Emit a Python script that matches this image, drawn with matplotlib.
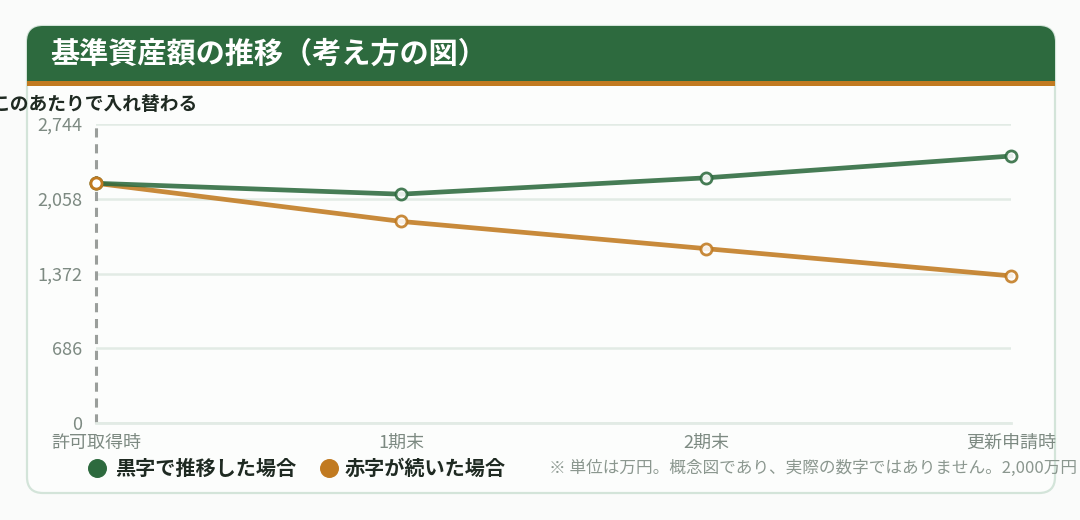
import matplotlib
matplotlib.use("Agg")
import matplotlib.pyplot as plt
from matplotlib.patches import FancyBboxPatch, Rectangle
from matplotlib.ticker import FuncFormatter

plt.rcParams['font.family'] = ['Noto Sans CJK JP', 'DejaVu Sans']

# ---- data ----
categories = ["許可取得時", "1期末", "2期末", "更新申請時"]
black_series = [2200, 2100, 2250, 2450]
red_series = [2200, 1850, 1600, 1350]
series_names = ["黒字で推移した場合", "赤字が続いた場合"]
y_ticks = [0, 686, 1372, 2058, 2744]
title = "基準資産額の推移（考え方の図）"
annotation = "このあたりで入れ替わる"
footnote = "※ 単位は万円。概念図であり、実際の数字ではありません。2,000万円"

GREEN = "#2d6a3e"
ORANGE = "#c17a20"
GRID = "#e2ebe5"
TICK = "#7d8a82"
DARK = "#1f2a22"

W, H = 1080, 520
fig = plt.figure(figsize=(W / 100, H / 100), dpi=100)
fig.patch.set_facecolor("#fafbfa")

# background / card axes in pixel coords
bg = fig.add_axes([0, 0, 1, 1])
bg.set_xlim(0, W)
bg.set_ylim(H, 0)
bg.axis("off")
bg.set_zorder(0)

cx0, cy0, cx1, cy1 = 27, 26, 1055, 493
card = FancyBboxPatch((cx0, cy0), cx1 - cx0, cy1 - cy0,
                      boxstyle="round,pad=0,rounding_size=16",
                      facecolor="#fcfdfc", edgecolor="#d3e4d9", linewidth=1.6)
bg.add_patch(card)
hdr = FancyBboxPatch((cx0, cy0), cx1 - cx0, 40,
                     boxstyle="round,pad=0,rounding_size=16",
                     facecolor=GREEN, edgecolor="none")
bg.add_patch(hdr)
bg.add_patch(Rectangle((cx0, 50), cx1 - cx0, 31, facecolor=GREEN, edgecolor="none"))
bg.add_patch(Rectangle((cx0, 81), cx1 - cx0, 4.5, facecolor=ORANGE, edgecolor="none"))
bg.text(50, 54, title, color="white", fontsize=21, fontweight="bold",
        va="center", ha="left")

# legend (manual)
bg.scatter([97], [468], s=160, color=GREEN, zorder=3)
bg.text(115, 468, series_names[0], color=DARK, fontsize=14.5, fontweight="bold",
        va="center", ha="left")
bg.scatter([329], [468], s=160, color=ORANGE, zorder=3)
bg.text(345, 468, series_names[1], color=DARK, fontsize=14.5, fontweight="bold",
        va="center", ha="left")
bg.text(549, 468, footnote, color="#8b978f", fontsize=12, va="center", ha="left")

# annotation text
bg.text(94, 105, annotation, color=DARK, fontsize=13.5, fontweight="bold",
        va="center", ha="center")

# ---- plot axes ----
px0, px1, py_top, py_bot = 96, 1011, 124, 423
ax = fig.add_axes([px0 / W, (H - py_bot) / H, (px1 - px0) / W, (py_bot - py_top) / H])
ax.set_zorder(1)
ax.patch.set_alpha(0)
x = list(range(len(categories)))
ax.set_xlim(0, len(categories) - 1)
ax.set_ylim(y_ticks[0], y_ticks[-1])
ax.set_yticks(y_ticks)
ax.yaxis.set_major_formatter(FuncFormatter(lambda v, p: f"{int(v):,}"))
ax.set_xticks(x)
ax.set_xticklabels(categories)
ax.tick_params(axis="both", length=0, colors=TICK, labelsize=13)
ax.tick_params(axis="y", pad=10)
ax.tick_params(axis="x", pad=8)
for s in ["top", "right", "left"]:
    ax.spines[s].set_visible(False)
ax.spines["bottom"].set_color(GRID)
ax.spines["bottom"].set_linewidth(2)
ax.grid(axis="y", color=GRID, linewidth=1.8)
ax.set_axisbelow(True)

# dashed marker line
ax.axvline(0, color="#9a9e9b", linestyle=(0, (3, 2.2)), linewidth=2.2, zorder=2, clip_on=False)

ax.plot(x, red_series, color=ORANGE, linewidth=3.4, alpha=0.88, zorder=3,
        marker="o", markersize=8, markerfacecolor="white", markeredgecolor=ORANGE,
        markeredgewidth=2, clip_on=False)
ax.plot(x, black_series, color=GREEN, linewidth=3.4, alpha=0.88, zorder=4,
        marker="o", markersize=8, markerfacecolor="white", markeredgecolor=GREEN,
        markeredgewidth=2, clip_on=False)
# first point marker shown in orange on top (as in the reference)
ax.plot(x[:1], red_series[:1], linestyle="none", marker="o", markersize=8,
        markerfacecolor="white", markeredgecolor=ORANGE, markeredgewidth=2,
        zorder=5, clip_on=False)

fig.savefig("out.png", dpi=100, facecolor=fig.get_facecolor())
